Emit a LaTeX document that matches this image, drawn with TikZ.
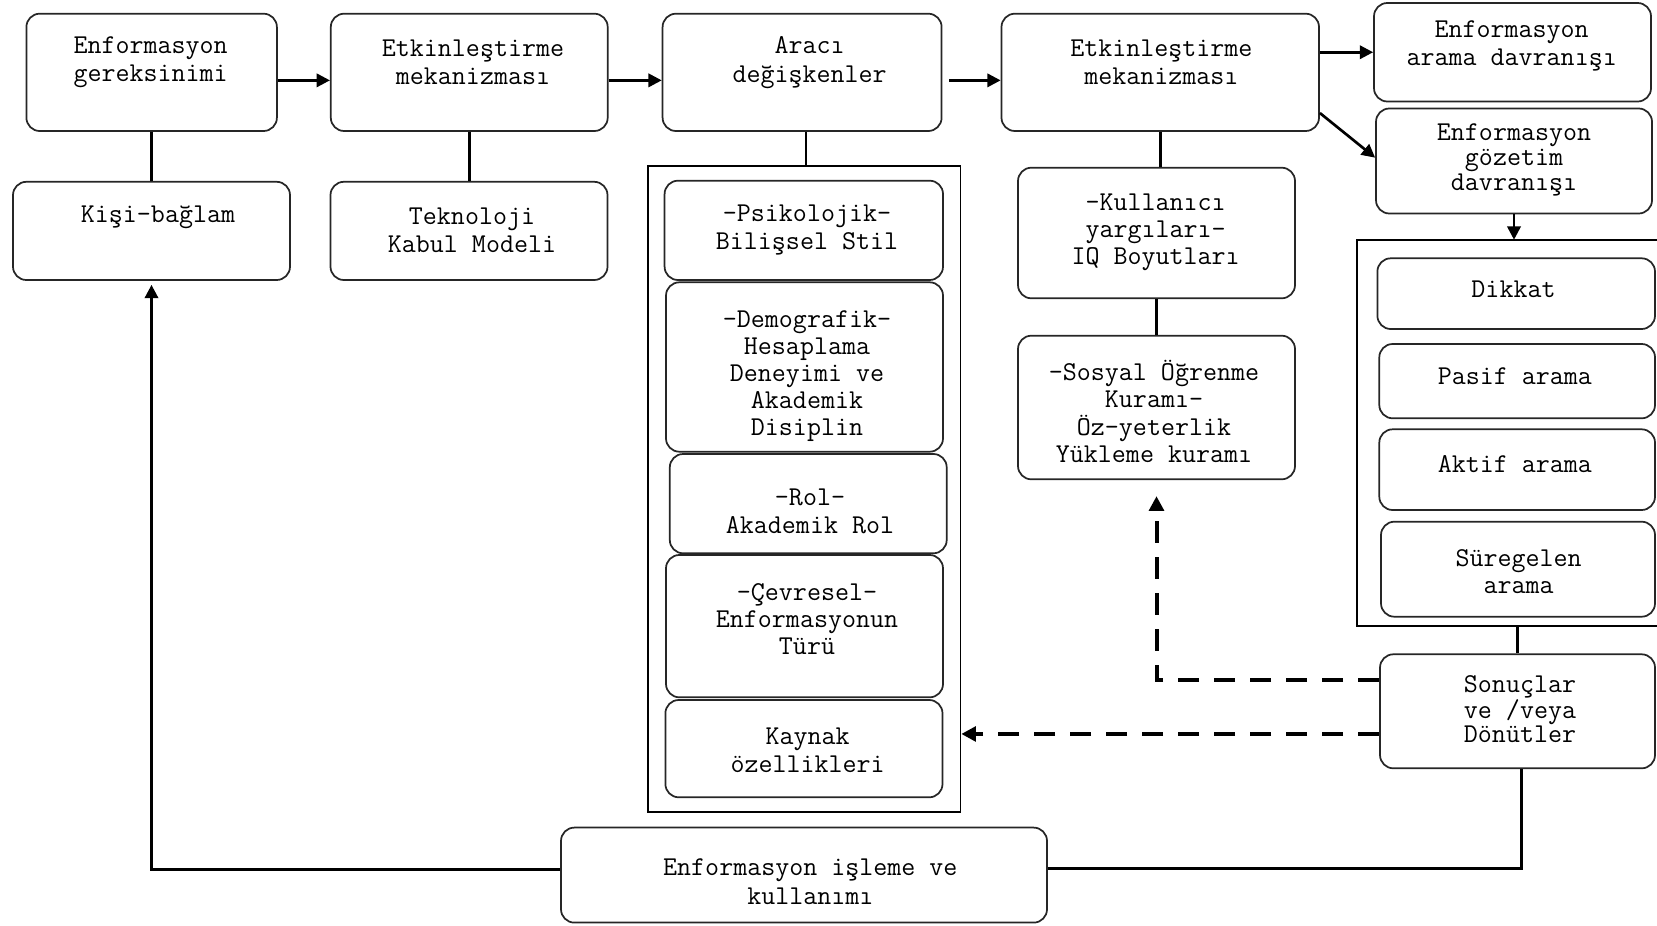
\documentclass[tikz,border=0pt]{standalone}
\usepackage{fontspec}
\usetikzlibrary{arrows.meta,fit}
\tikzset{
  box/.style={draw=black!85, line width=1.3pt, rounded corners=10pt, inner sep=0pt},
  framebox/.style={draw, line width=1.2pt, inner sep=0pt},
  lbl/.style={font=\ttfamily\fontsize{20.4}{#1}\selectfont, align=center, inner sep=0pt},
  lbl/.default=20.25,
  conn/.style={line width=2pt},
  arr/.style={conn, -{Triangle[length=10pt,width=10pt]}},
  dsh/.style={line width=3pt, dash pattern=on 16pt off 11pt, -{Triangle[length=11pt,width=11pt]}}
}
\begin{document}
\begin{tikzpicture}[x=0.75pt,y=-0.75pt]
\useasboundingbox (0,0) rectangle (1657,925);

% top row
\node[box, fit={(26.4,13.7) (276.9,131)}] (b1) {};
\node[box, fit={(330.8,13.7) (607.7,131)}] (b2) {};
\node[box, fit={(662.6,13.7) (941.6,131)}] (b3) {};
\node[box, fit={(1001.5,13.7) (1319,131)}] (b4) {};
\node[box, fit={(1374,3) (1651,101.5)}] (b5) {};
\node[box, fit={(1376,108.5) (1652,213.5)}] (b6) {};

\node[lbl=21.3] (b1t) at (150.7,62.5) {Enformasyon\\gereksinimi};
\node[lbl=21.3] (b2t) at (473,62.5) {Etkinleştirme\\mekanizması};
\node[lbl=21.3] (b3t) at (809.6,62.5) {Aracı\\değişkenler};
\node[lbl=21.3] (b4t) at (1161.4,62.5) {Etkinleştirme\\mekanizması};
\node[lbl=20.7] (b5t) at (1511.7,46.2) {Enformasyon\\arama davranışı};
\node[lbl=18.75] (b6t) at (1514,160) {Enformasyon\\gözetim\\davranışı};

% second row left
\node[box, fit={(13,181.8) (290,280)}] (kisi) {};
\node[box, fit={(330.5,181.8) (607.5,280)}] (tek) {};
\node[lbl] (kisit) at (158,217.5) {Kişi-bağlam};
\node[lbl=21.3] (tekt) at (472,230) {Teknoloji\\Kabul Modeli};

% Araci frame
\node[framebox, fit={(648,165.7) (960.5,811.7)}] (af) {};
\node[box, fit={(664.6,180.7) (943,280)}] (psi) {};
\node[box, fit={(666,282.3) (943,451.7)}] (dem) {};
\node[box, fit={(669.8,454) (946.7,553.3)}] (rol) {};
\node[box, fit={(666,555) (943,697.3)}] (cev) {};
\node[box, fit={(665.4,700) (942.5,797.3)}] (kay) {};
\node[lbl=21.3] (psit) at (807,230) {-Psikolojik-\\Bilişsel Stil};
\node[lbl=20.2] (demt) at (807,376.2) {-Demografik-\\Hesaplama\\Deneyimi ve\\Akademik\\Disiplin};
\node[lbl=21.3] (rolt) at (810,511.5) {-Rol-\\Akademik Rol};
\node[lbl=20] (cevt) at (807,619) {-Çevresel-\\Enformasyonun\\Türü};
\node[lbl=20.5] (kayt) at (807.6,750.4) {Kaynak\\özellikleri};

% middle column
\node[box, fit={(1018,167.7) (1295,298.3)}] (ku) {};
\node[box, fit={(1018,335.7) (1295,479.3)}] (so) {};
\node[lbl] (kut) at (1155.6,232) {-Kullanıcı\\yargıları-\\IQ Boyutları};
\node[lbl=20.4] (sot) at (1154,411.5) {-Sosyal Öğrenme\\Kuramı-\\Öz-yeterlik\\Yükleme kuramı};

% right frame
\node[inner sep=0pt, fit={(1357.3,240) (1657,626)}] (rf) {};
\draw[line width=1.2pt] (rf.north east) -- (rf.north west) -- (rf.south west) -- (rf.south east);
\node[box, fit={(1377.4,258.3) (1655,329)}] (dik) {};
\node[box, fit={(1379.3,344) (1655,418.3)}] (pas) {};
\node[box, fit={(1379.3,429.3) (1655,510)}] (akt) {};
\node[box, fit={(1381,521.7) (1655,616.7)}] (sur) {};
\node[lbl] (dikt) at (1513.5,289) {Dikkat};
\node[lbl] (past) at (1514.8,376.4) {Pasif arama};
\node[lbl] (aktt) at (1514.8,464) {Aktif arama};
\node[lbl] (surt) at (1518.7,571.5) {Süregelen\\arama};

\node[box, fit={(1380,654.3) (1655,768.3)}] (son) {};
\node[lbl=18.2] (sont) at (1520,709.2) {Sonuçlar\\ve /veya\\Dönütler};

\node[box, fit={(561,827.6) (1047,922.6)}] (ei) {};
\node[lbl=21.3] (eit) at (810.3,881.5) {Enformasyon işleme ve\\kullanımı};

% connectors
\draw[arr] ([yshift=-6pt]b1.east) -- ([yshift=-6pt]b2.west);
\draw[arr] ([yshift=-6pt]b2.east) -- ([yshift=-6pt]b3.west);
\draw[arr] ([xshift=5pt,yshift=-6pt]b3.east) -- ([yshift=-6pt]b4.west);
\draw[arr] (b4.east |- b5.west) -- (b5.west);
\draw[arr] ([yshift=-30.5pt]b4.east) -- ([yshift=2.5pt]b6.west);

\draw[conn] (b1.south) -- (b1.south |- kisi.north);
\draw[conn] (b2.south) -- (b2.south |- tek.north);
\draw[conn] ([xshift=3pt]b3.south) -- ([xshift=3pt]b3.south |- af.north);
\draw[conn] (b4.south) -- (b4.south |- ku.north);
\draw[conn] (ku.south) -- (ku.south |- so.north);
\draw[arr] (b6.south) -- (b6.south |- rf.north);
\draw[conn] (son.north) -- (son.north |- rf.south);
\draw[conn] ([xshift=3pt]son.south) |- ([yshift=5pt]ei.east);
\draw[arr] ([yshift=4pt]ei.west) -| ([yshift=-3pt]kisi.south);

\coordinate (d1) at ([yshift=23.5pt]son.west);
\coordinate (d2) at ([yshift=-17pt]son.west);
\draw[dsh] (d1) -| ([yshift=-12pt]so.south);
\draw[dsh] (d2) -- (d2 -| af.east);
\end{tikzpicture}
\end{document}
